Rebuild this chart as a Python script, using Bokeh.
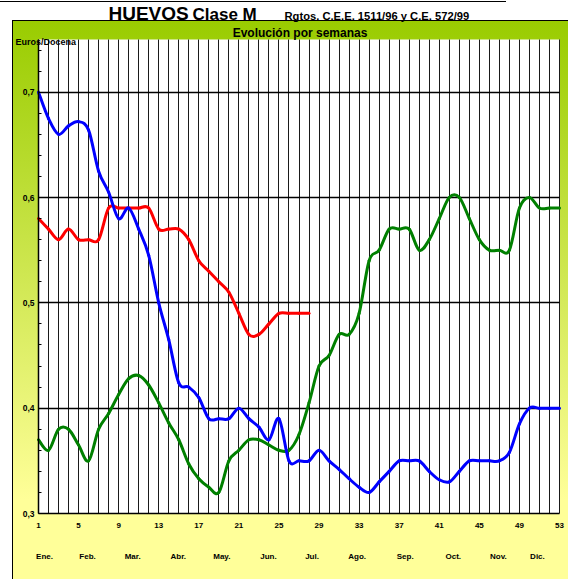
from bokeh.plotting import figure
from bokeh.models import FixedTicker, LinearAxis, Label, Range1d, BoxAnnotation
from bokeh.models import ColumnDataSource
from bokeh.embed import file_html
from bokeh.resources import INLINE

# ---------------- data ----------------
weeks = list(range(1, 54))
blue_values = [0.70, 0.675, 0.66, 0.668, 0.672, 0.664, 0.625, 0.605, 0.58, 0.59,
               0.57, 0.545, 0.50, 0.465, 0.424, 0.42, 0.41, 0.39, 0.39, 0.39,
               0.40, 0.39, 0.382, 0.37, 0.39, 0.35, 0.35, 0.35, 0.36, 0.35,
               0.342, 0.333, 0.325, 0.32, 0.33, 0.34, 0.35, 0.35, 0.35, 0.34,
               0.332, 0.33, 0.34, 0.35, 0.35, 0.35, 0.35, 0.358, 0.385, 0.40,
               0.40, 0.40, 0.40]
red_weeks = list(range(1, 29))
red_values = [0.58, 0.57, 0.56, 0.57, 0.56, 0.56, 0.56, 0.59, 0.59, 0.59,
              0.59, 0.59, 0.57, 0.57, 0.57, 0.56, 0.54, 0.53, 0.52, 0.51,
              0.49, 0.47, 0.47, 0.48, 0.49, 0.49, 0.49, 0.49]
green_values = [0.37, 0.36, 0.38, 0.38, 0.365, 0.35, 0.38, 0.395, 0.413, 0.428,
                0.431, 0.422, 0.405, 0.386, 0.37, 0.347, 0.333, 0.325, 0.32, 0.35,
                0.36, 0.37, 0.37, 0.365, 0.36, 0.36, 0.375, 0.405, 0.44, 0.45,
                0.47, 0.47, 0.49, 0.54, 0.55, 0.57, 0.57, 0.57, 0.55, 0.56,
                0.58, 0.60, 0.60, 0.58, 0.56, 0.55, 0.55, 0.55, 0.59, 0.60,
                0.59, 0.59, 0.59]
week_ticks = [1, 5, 9, 13, 17, 21, 25, 29, 33, 37, 41, 45, 49, 53]
month_names = ["Ene.", "Feb.", "Mar.", "Abr.", "May.", "Jun.", "Jul.", "Ago.",
               "Sep.", "Oct.", "Nov.", "Dic."]
month_pos = [1.6, 5.9, 10.4, 14.95, 19.3, 23.95, 28.3, 32.8, 37.6, 42.4, 46.9, 50.8]
y_ticks = [0.3, 0.4, 0.5, 0.6, 0.7]
y_tick_labels = ["0,3", "0,4", "0,5", "0,6", "0,7"]
y_minor = [0.32, 0.34, 0.36, 0.38, 0.42, 0.44, 0.46, 0.48, 0.52, 0.54, 0.56, 0.58,
           0.62, 0.64, 0.66, 0.68, 0.72, 0.74]

# ---------------- layout ----------------
W, H = 568, 579
FL, FR, FT, FB = 38, 559, 39, 513          # white plotting area (canvas px)
WK0, WK1, V0, V1 = 1, 53, 0.3, 0.75         # its data extent
PXW = (FR - FL) / (WK1 - WK0)
PXV = (FB - FT) / (V1 - V0)
XS = WK0 - FL / PXW
XE = XS + W / PXW
YE = V1 + FT / PXV
YS = YE - H / PXV
FONT = "Liberation Sans"


def dx(px):
    return XS + px / PXW


def dy(py):
    return YE - py / PXV


bg = ("linear-gradient(#000,#000) 0px 1px / 506px 1px no-repeat, "
      "linear-gradient(#000,#000) 12px 20px / 556px 1px no-repeat, "
      "linear-gradient(#000,#000) 12px 20px / 1px 559px no-repeat, "
      "linear-gradient(180deg, #99cc00 0px, #ffff99 480px) 12px 20px / 556px 559px no-repeat, "
      "#ffffff")

p = figure(width=W, height=H, x_range=Range1d(XS, XE), y_range=Range1d(YS, YE),
           output_backend="svg", toolbar_location=None, title=None,
           min_border=0, min_border_left=0, min_border_right=0,
           min_border_top=0, min_border_bottom=0)
p.styles = {"position": "fixed", "left": "0px", "top": "0px", "margin": "0px",
            "background": bg}
p.border_fill_color = None
p.background_fill_color = None
p.outline_line_color = None

# white plotting area
p.add_layout(BoxAnnotation(left=WK0, right=WK1, bottom=V0, top=V1,
                           fill_color="white", fill_alpha=1.0,
                           line_color=None, level="image"))

# x axis (weeks)
xa = p.xaxis[0]
xa.fixed_location = V0
xa.bounds = (WK0, WK1)
xa.ticker = FixedTicker(ticks=week_ticks)
xa.major_tick_in = 0
xa.major_tick_out = 0
xa.minor_tick_line_color = None
xa.axis_line_color = "black"
xa.axis_line_width = 1.5
xa.major_label_standoff = 9
xa.major_label_text_font = FONT
xa.major_label_text_font_style = "bold"
xa.major_label_text_font_size = "8px"
xa.major_label_text_color = "black"

# month axis
ma = LinearAxis(ticker=FixedTicker(ticks=month_pos),
                major_label_overrides={k: v for k, v in zip(month_pos, month_names)})
ma.fixed_location = V0
ma.axis_line_color = None
ma.major_tick_line_color = None
ma.minor_tick_line_color = None
ma.major_label_standoff = 32
ma.major_label_text_font = FONT
ma.major_label_text_font_style = "bold"
ma.major_label_text_font_size = "8px"
ma.major_label_text_color = "black"
p.add_layout(ma, "below")

# y axis
ya = p.yaxis[0]
ya.fixed_location = WK0
ya.bounds = (V0, V1)
ya.ticker = FixedTicker(ticks=y_ticks, minor_ticks=y_minor)
ya.major_label_overrides = {k: v for k, v in zip(y_ticks, y_tick_labels)}
ya.major_tick_in = 4
ya.major_tick_out = 0
ya.minor_tick_in = 3
ya.minor_tick_out = 0
ya.axis_line_color = "black"
ya.axis_line_width = 1.5
ya.major_label_standoff = 4
ya.major_label_text_font = FONT
ya.major_label_text_font_style = "bold"
ya.major_label_text_font_size = "8.5px"
ya.major_label_text_color = "black"

# grids, limited to the white area
xg, yg = p.xgrid[0], p.ygrid[0]
if "cross_bounds" in xg.properties():
    xg.ticker = FixedTicker(ticks=weeks)
    xg.bounds = (WK0, WK1)
    xg.cross_bounds = (V0, V1)
    xg.grid_line_color = "#1a1a1a"
    xg.grid_line_width = 1
    yg.ticker = FixedTicker(ticks=y_ticks[1:])
    yg.bounds = (V0, V1)
    yg.cross_bounds = (WK0, WK1)
    yg.grid_line_color = "black"
    yg.grid_line_width = 1.3
else:
    xg.visible = False
    yg.visible = False
    p.segment(x0=weeks, y0=[V0] * len(weeks), x1=weeks, y1=[V1] * len(weeks),
              line_color="#1a1a1a", line_width=1)
    hy = y_ticks[1:]
    p.segment(x0=[WK0] * len(hy), y0=hy, x1=[WK1] * len(hy), y1=hy,
              line_color="black", line_width=1.3)


# smoothed series (Excel-like) drawn as cubic Bezier segments through the points
def bezier_source(xs, ys, t=1.0 / 6.0):
    n = len(xs)
    d = dict(x0=[], y0=[], x1=[], y1=[], cx0=[], cy0=[], cx1=[], cy1=[])
    for i in range(n - 1):
        xm, ym = xs[max(i - 1, 0)], ys[max(i - 1, 0)]
        xp, yp = xs[min(i + 2, n - 1)], ys[min(i + 2, n - 1)]
        d["x0"].append(xs[i]); d["y0"].append(ys[i])
        d["x1"].append(xs[i + 1]); d["y1"].append(ys[i + 1])
        d["cx0"].append(xs[i] + (xs[i + 1] - xm) * t)
        d["cy0"].append(ys[i] + (ys[i + 1] - ym) * t)
        d["cx1"].append(xs[i + 1] - (xp - xs[i]) * t)
        d["cy1"].append(ys[i + 1] - (yp - ys[i]) * t)
    return ColumnDataSource(d)


for xs, ys, col in [(weeks, green_values, "#008000"),
                    (red_weeks, red_values, "#ff0000"),
                    (weeks, blue_values, "#0000ff")]:
    p.bezier(x0="x0", y0="y0", x1="x1", y1="y1", cx0="cx0", cy0="cy0",
             cx1="cx1", cy1="cy1", source=bezier_source(xs, ys),
             line_color=col, line_width=3, line_cap="round")


# texts (py is the wanted baseline; the renderer draws ~0.37em lower)
def add_text(txt, px, py, size, align="left"):
    p.add_layout(Label(x=dx(px), y=dy(py - 0.37 * size), text=txt, text_font=FONT,
                       text_font_style="bold", text_font_size=f"{size}px",
                       text_color="black", text_align=align,
                       text_baseline="alphabetic"))


add_text("HUEVOS", 108, 20, 19)
add_text("Clase M", 192, 20, 17)
add_text("Rgtos. C.E.E. 1511/96 y C.E. 572/99", 284, 19.5, 11.2)
add_text("Evolución por semanas", 299.5, 37, 12, align="center")
add_text("Euros/Docena", 15, 45, 9)

open("out.html", "w").write(file_html(p, INLINE))
